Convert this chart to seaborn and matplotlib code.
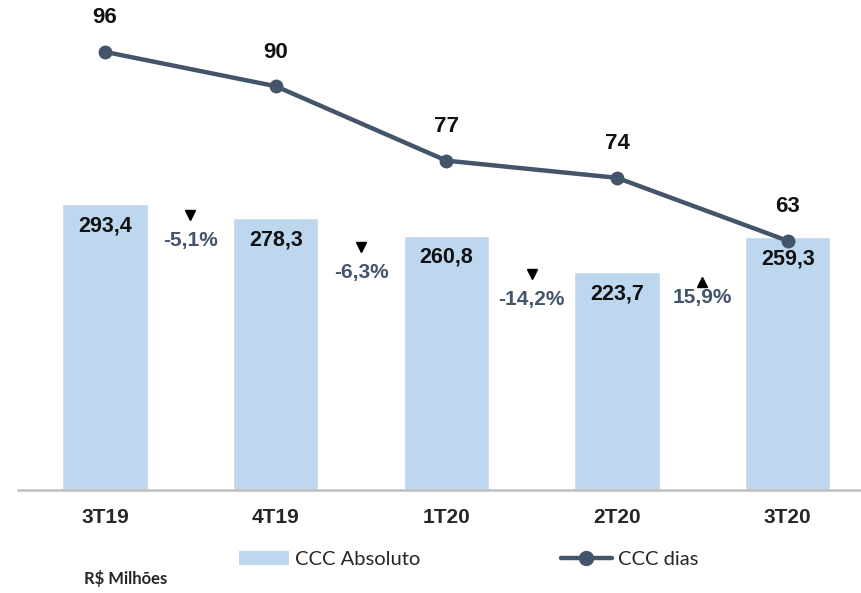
import numpy as np
import pandas as pd
import matplotlib.pyplot as plt
import seaborn as sns
from matplotlib.patches import Patch
from matplotlib.lines import Line2D

sns.set_style("white")
plt.rcParams['font.family'] = ['Liberation Sans', 'DejaVu Sans']

quarters = ["3T19", "4T19", "1T20", "2T20", "3T20"]
ccc_absoluto = [293.4, 278.3, 260.8, 223.7, 259.3]
ccc_dias = [96, 90, 77, 74, 63]
var_labels = ["-5,1%", "-6,3%", "-14,2%", "15,9%"]
var_up = [False, False, False, True]
# where each variation label sits (bar-axis units)
var_label_y = [256, 223, 195, 197]

BAR_COLOR = "#BDD7EE"
LINE_COLOR = "#44546A"

fig = plt.figure(figsize=(8.61, 5.93), dpi=100)
ax = fig.add_axes([0.021, 0.174, 0.979, 0.809])

df = pd.DataFrame({"quarter": quarters, "abs": ccc_absoluto, "dias": ccc_dias})
sns.barplot(data=df, x="quarter", y="abs", color=BAR_COLOR, width=0.5,
            saturation=1, ax=ax)

ax.set_ylim(0, 492)
ax.set_xlim(-0.51, 4.43)
for sp in ["top", "right", "left"]:
    ax.spines[sp].set_visible(False)
ax.spines["bottom"].set_color("#BFBFBF")
ax.spines["bottom"].set_linewidth(1.8)
ax.set_yticks([])
ax.set_xlabel("")
ax.set_ylabel("")
ax.tick_params(axis="x", length=0, pad=13)
for lbl in ax.get_xticklabels():
    lbl.set_fontweight("bold")
    lbl.set_fontsize(15)

for i, v in enumerate(ccc_absoluto):
    ax.text(i, v - 22.5, f"{v:.1f}".replace(".", ","), ha="center",
            va="center", fontsize=15.5, fontweight="bold", color="#111111")

for i, (lab, up, y) in enumerate(zip(var_labels, var_up, var_label_y)):
    xm = i + 0.5
    ax.text(xm, y, lab, ha="center", va="center", fontsize=15,
            fontweight="bold", color=LINE_COLOR)
    ax.plot(xm, y + 16 if up else y + 26, marker="^" if up else "v",
            color="black", markersize=6.5, linestyle="none")

ax2 = ax.twinx()
sns.lineplot(x=np.arange(len(quarters)), y=ccc_dias, ax=ax2, color=LINE_COLOR,
             linewidth=3.2, marker="o", markersize=10, markeredgewidth=0)
ax2.set_ylim(19.5, 103.3)
ax2.set_yticks([])
for sp in ["top", "right", "left", "bottom"]:
    ax2.spines[sp].set_visible(False)

for i, v in enumerate(ccc_dias):
    ax2.annotate(str(v), (i, v), xytext=(0, 24.5), textcoords="offset points",
                 ha="center", va="center", fontsize=16, fontweight="bold",
                 color="#111111")

handles = [
    Patch(facecolor=BAR_COLOR, edgecolor="none", label="CCC Absoluto"),
    Line2D([0], [0], color=LINE_COLOR, linewidth=3.2, marker="o",
           markersize=10, label="CCC dias"),
]
fig.legend(handles=handles, loc="center", bbox_to_anchor=(0.544, 0.056),
           ncol=2, frameon=False, columnspacing=7,
           handlelength=2.5, handletextpad=0.3,
           prop={"family": ["Lato", "DejaVu Sans"], "size": 14.5})

fig.text(0.097, 0.025, "R$ Milhões", fontsize=12, fontweight="bold",
         family=["Lato", "DejaVu Sans"], ha="left", va="center")

fig.savefig("out.png", dpi=100)
